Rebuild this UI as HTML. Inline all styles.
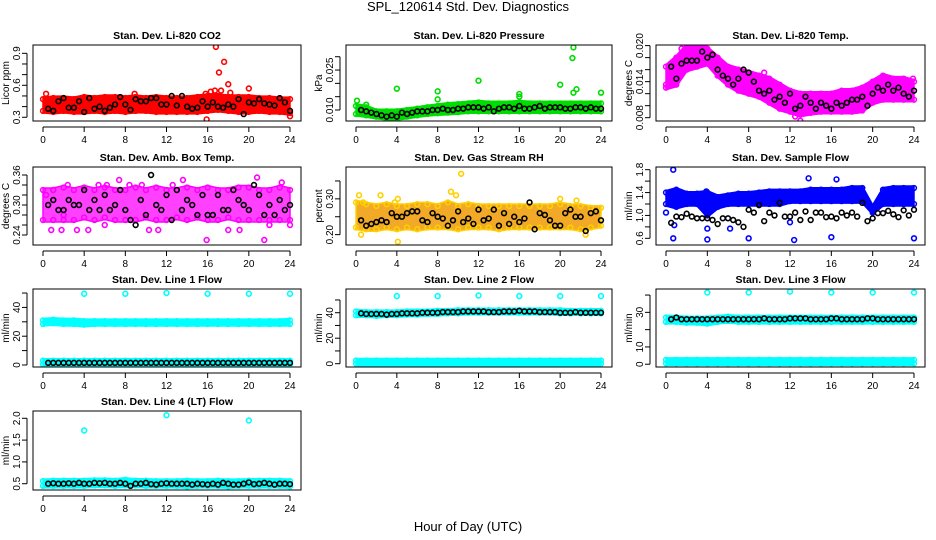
<!DOCTYPE html>
<html><head><meta charset="utf-8">
<style>
html,body{margin:0;padding:0;background:#fff;}
svg{display:block;font-family:"Liberation Sans",sans-serif;}
</style></head>
<body>
<svg id="chart" width="936" height="540" viewBox="0 0 936 540" xmlns="http://www.w3.org/2000/svg">
<rect width="936" height="540" fill="#fff"/>
<text x="468" y="11" text-anchor="middle" font-size="13">SPL_120614  Std. Dev. Diagnostics</text>
<text x="468" y="531" text-anchor="middle" font-size="13">Hour of Day (UTC)</text>
</svg>
<script>
const bandHours = [0,1,2,3,4,5,6,7,8,9,10,11,12,13,14,15,16,17,18,19,20,21,22,23,24];
const xTicks = [0,4,8,12,16,20,24];

const co2Lo = [0.36,0.35,0.36,0.35,0.35,0.36,0.35,0.36,0.35,0.36,0.36,0.35,0.35,0.35,0.35,0.35,0.36,0.37,0.36,0.35,0.35,0.36,0.35,0.35,0.34];
const co2Hi = [0.47,0.48,0.48,0.47,0.49,0.48,0.49,0.49,0.48,0.49,0.48,0.49,0.48,0.48,0.48,0.49,0.5,0.5,0.49,0.49,0.49,0.48,0.48,0.47,0.47];
const co2Blk = [0.38,0.36,0.45,0.48,0.39,0.39,0.45,0.35,0.48,0.38,0.40,0.36,0.39,0.42,0.49,0.42,0.37,0.47,0.45,0.45,0.48,0.48,0.42,0.42,0.50,0.41,0.50,0.40,0.38,0.39,0.45,0.40,0.44,0.40,0.39,0.42,0.40,0.47,0.33,0.44,0.43,0.47,0.43,0.42,0.41,0.48,0.44,0.36];
const co2OutX = [0.3,8.9,15.8,16.3,16.8,17.1,17.6,17.3,18,18.2,20,15.9,24,16.7];
const co2OutY = [0.52,0.52,0.52,0.54,0.96,0.72,0.82,0.55,0.61,0.53,0.57,0.28,0.31,0.55];

const prLo = [0.0085,0.008,0.0075,0.007,0.007,0.0075,0.008,0.0085,0.0088,0.009,0.0092,0.0095,0.0095,0.0095,0.0095,0.0095,0.0095,0.0095,0.0095,0.0095,0.0095,0.0095,0.0095,0.0095,0.0095];
const prHi = [0.0115,0.011,0.0095,0.0095,0.0095,0.01,0.0105,0.011,0.0115,0.012,0.0122,0.0125,0.0128,0.0125,0.0125,0.0125,0.0128,0.0125,0.0125,0.0125,0.0125,0.0125,0.0125,0.0125,0.0125];
const prBlk = [0.010,0.0095,0.009,0.0085,0.008,0.0075,0.008,0.0075,0.009,0.0085,0.009,0.0095,0.0095,0.0095,0.010,0.010,0.0105,0.010,0.010,0.0105,0.0105,0.011,0.011,0.011,0.0105,0.011,0.0095,0.0105,0.011,0.011,0.0105,0.0115,0.0105,0.0105,0.011,0.0115,0.0105,0.011,0.011,0.011,0.0105,0.0105,0.011,0.011,0.0105,0.011,0.0105,0.0105];
const prOutX = [0.1,1,4,8,8,12,16,16,20,21.3,21.2,21.3,21.6,24,4];
const prOutY = [0.0135,0.012,0.018,0.017,0.014,0.021,0.016,0.015,0.0195,0.0335,0.0295,0.0165,0.0178,0.0165,0.0065];

const tLo = [0.013,0.0135,0.016,0.0165,0.017,0.015,0.0135,0.0125,0.012,0.0115,0.0105,0.0095,0.009,0.0085,0.0088,0.009,0.009,0.009,0.009,0.0092,0.0105,0.011,0.011,0.011,0.011];
const tHi = [0.0165,0.018,0.020,0.020,0.0195,0.018,0.0165,0.016,0.0155,0.015,0.0145,0.0135,0.0125,0.012,0.012,0.012,0.012,0.0125,0.0125,0.013,0.014,0.015,0.0145,0.0145,0.014];
const tBlk = [0.0165,0.0145,0.017,0.0175,0.0175,0.0175,0.019,0.018,0.0185,0.016,0.015,0.0145,0.0135,0.0145,0.016,0.0155,0.014,0.0125,0.012,0.0125,0.011,0.0115,0.0105,0.012,0.0095,0.010,0.0115,0.0105,0.0095,0.0105,0.010,0.0095,0.0105,0.0100,0.0105,0.0110,0.011,0.0115,0.0100,0.0120,0.0130,0.0125,0.0135,0.0125,0.0130,0.0120,0.0115,0.0125];
const tOutX = [0,1.5,9.5,12.5,13,17.5,23.9];
const tOutY = [0.0135,0.0195,0.0155,0.0082,0.0075,0.0105,0.0145];

const aLo = [0.27,0.27,0.27,0.27,0.275,0.27,0.275,0.27,0.27,0.27,0.275,0.27,0.27,0.275,0.27,0.275,0.27,0.27,0.275,0.27,0.27,0.27,0.27,0.27,0.27];
const aHi = [0.33,0.33,0.335,0.33,0.335,0.33,0.335,0.33,0.33,0.335,0.33,0.335,0.33,0.33,0.335,0.33,0.335,0.33,0.33,0.335,0.335,0.33,0.33,0.335,0.33];
const aBlk = [0.30,0.31,0.29,0.29,0.31,0.30,0.30,0.33,0.29,0.31,0.29,0.32,0.29,0.30,0.33,0.29,0.27,0.26,0.31,0.28,0.36,0.30,0.29,0.32,0.27,0.33,0.29,0.31,0.30,0.28,0.32,0.28,0.28,0.32,0.29,0.29,0.33,0.31,0.30,0.29,0.34,0.32,0.28,0.30,0.28,0.31,0.29,0.30];
const aOutX = [0.3,0.8,1,1.8,2.4,3.3,4.4,5.4,6.2,7.4,8.4,9.6,10.3,11.2,12.6,15.9,18,19.1,20.8,21.5,22,23.2,24,13.6,2,6];
const aOutY = [0.32,0.25,0.33,0.25,0.34,0.25,0.25,0.34,0.34,0.35,0.34,0.34,0.25,0.25,0.34,0.23,0.25,0.25,0.355,0.23,0.26,0.345,0.26,0.35,0.28,0.26];

const rLo = [0.22,0.215,0.215,0.22,0.215,0.22,0.215,0.22,0.22,0.22,0.215,0.22,0.22,0.22,0.215,0.22,0.22,0.22,0.22,0.22,0.22,0.22,0.215,0.22,0.225];
const rHi = [0.29,0.285,0.28,0.285,0.28,0.28,0.285,0.285,0.28,0.29,0.28,0.285,0.28,0.28,0.28,0.28,0.28,0.28,0.28,0.28,0.285,0.28,0.28,0.275,0.275];
const rBlk = [0.24,0.225,0.23,0.235,0.24,0.235,0.26,0.25,0.25,0.26,0.265,0.265,0.24,0.235,0.26,0.25,0.245,0.225,0.24,0.265,0.235,0.245,0.23,0.27,0.24,0.245,0.27,0.225,0.26,0.23,0.25,0.235,0.245,0.29,0.215,0.26,0.255,0.24,0.225,0.225,0.26,0.27,0.25,0.25,0.21,0.26,0.265,0.24];
const rOutX = [0.3,0.7,2.4,3.8,4.1,4.1,9.3,9.8,10.3,20,21.6,0.5,22.5];
const rOutY = [0.31,0.29,0.31,0.29,0.3,0.18,0.32,0.31,0.37,0.3,0.295,0.2,0.2];

const fLo = [1.2,1.15,1.2,1.2,1.0,1.15,1.2,1.2,1.2,1.2,1.2,1.2,1.25,1.25,1.25,1.25,1.25,1.25,1.25,1.25,1.05,1.2,1.2,1.2,1.2];
const fHi = [1.4,1.45,1.38,1.38,1.4,1.32,1.35,1.38,1.38,1.4,1.42,1.42,1.42,1.42,1.45,1.45,1.45,1.45,1.48,1.48,1.15,1.45,1.48,1.48,1.48];
const fBlk = [0.87,0.98,0.97,1.03,0.98,0.95,0.95,0.95,0.92,0.85,0.95,0.95,0.92,0.88,0.8,1.1,1.05,1.18,0.9,1.05,1.0,1.22,0.98,0.98,1.05,0.92,1.07,0.92,1.05,1.05,0.97,0.98,0.95,1.05,1.0,1.05,0.98,1.22,0.9,0.95,1.04,1.04,1.08,1.02,0.97,1.09,1.0,1.1];
const fOutX = [0,0.7,0.7,0.8,4,4,8,6.2,12.4,13.8,16,16.5,24,12,3.9];
const fOutY = [1.05,1.8,0.6,0.83,0.58,0.77,0.6,0.77,0.57,1.65,0.62,1.63,0.6,0.88,1.42];

const l1Lo = [28.5,29,28.5,28.5,28,28.5,28.5,28.5,28.5,28.5,28.5,28.5,28.5,28.5,28.5,28.5,28.5,28.5,28.5,28.5,28.5,28.5,28.5,28.5,28.5];
const l1Hi = [31,31.5,31,31,30.5,30.5,30.5,30.5,30.5,30.5,30.5,30.5,30.5,30.5,30.5,30.5,30.5,30.5,30.5,30.5,30.5,30.5,30.5,30.5,31];
const l1BotLo = [0.5,0.5,0.5,0.5,0.5,0.5,0.5,0.5,0.5,0.5,0.5,0.5,0.5,0.5,0.5,0.5,0.5,0.5,0.5,0.5,0.5,0.5,0.5,0.5,0.5];
const l1BotHi = [3,3,3,3,3,3,3,3,3,3,3,3,3,3,3,3,3,3,3,3,3,3,3,3,3];
const l1Blk = [1.5,1.5,1.5,1.5,1.5,1.5,1.5,1.5,1.5,1.5,1.5,1.5,1.5,1.5,1.5,1.5,1.5,1.5,1.5,1.5,1.5,1.5,1.5,1.5,1.5,1.5,1.5,1.5,1.5,1.5,1.5,1.5,1.5,1.5,1.5,1.5,1.5,1.5,1.5,1.5,1.5,1.5,1.5,1.5,1.5,1.5,1.5,1.5];
const l1OutX = [4,8,12,16,20,24];
const l1OutY = [49.5,49.5,50,49.5,49.5,49.5];

const l2Lo = [38,38,37.5,38,38,38.5,38.5,39,39,39.5,39.5,40,40,40,40,40,40,40,40,40,39.5,39.5,39.5,39.5,39.5];
const l2Hi = [41,40.5,40.5,40.5,40.5,41,41,41,41.5,41.5,42,42,42,42,42,42,42,42,42,42,42,41.5,41.5,41.5,41.5];
const l2BotLo = [0,0,0,0,0,0,0,0,0,0,0,0,0,0,0,0,0,0,0,0,0,0,0,0,0];
const l2BotHi = [2.5,2.5,2.5,2.5,2.5,2.5,2.5,2.5,2.5,2.5,2.5,2.5,2.5,2.5,2.5,2.5,2.5,2.5,2.5,2.5,2.5,2.5,2.5,2.5,2.5];
const l2Blk = [39.5,39,39,39,39,38.5,39,39,39.5,39.5,39.5,39.5,40,40,40,40,40.5,40.5,40.5,40.5,41,41,41,41,41,40.5,40.5,40.5,41,41,41,41.5,41,41,41,40.5,40.5,40.5,40.5,40,40,40,40.5,40,40,40,40,40];
const l2OutX = [4,8,12,16,20,24];
const l2OutY = [53,53,53.5,53,53,53];

const l3Lo = [24.5,24.5,24,24,23.5,24.5,25,24.5,24.5,24.5,24.5,24.5,24.5,24.5,24.5,24.5,24.5,24.5,24.5,24.5,24.5,24.5,24.5,24.5,24.5];
const l3Hi = [27,27,26.5,26.5,26.5,27,27.5,27,27,27,27,27,27,27,27,27,27,27,27,27,27,27,27,27,27];
const l3BotLo = [0.5,0.5,0.5,0.5,0.5,0.5,0.5,0.5,0.5,0.5,0.5,0.5,0.5,0.5,0.5,0.5,0.5,0.5,0.5,0.5,0.5,0.5,0.5,0.5,0.5];
const l3BotHi = [2.5,2.5,2.5,2.5,2.5,2.5,2.5,2.5,2.5,2.5,2.5,2.5,2.5,2.5,2.5,2.5,2.5,2.5,2.5,2.5,2.5,2.5,2.5,2.5,2.5];
const l3Blk = [26,27,26,26,26,26,26,26,26,26,26,26,26,26,26,26,26,26,26.5,26,26,26,26,26.5,26.5,26.5,26.5,26,26,26,26,26.5,26.5,26,26,26,26,26,26.5,26.5,26,26,26,26,26,26,26,26];
const l3OutX = [4,8,12,16,20,24];
const l3OutY = [41.5,41.5,42,41.5,41.5,41.5];

const l4Lo = [0.45,0.45,0.45,0.45,0.45,0.46,0.46,0.45,0.46,0.46,0.45,0.45,0.45,0.45,0.44,0.45,0.45,0.45,0.44,0.45,0.45,0.45,0.45,0.45,0.44];
const l4Hi = [0.56,0.57,0.57,0.57,0.57,0.58,0.58,0.57,0.59,0.57,0.57,0.56,0.56,0.56,0.57,0.56,0.56,0.57,0.56,0.56,0.57,0.57,0.57,0.57,0.56];
const l4Blk = [0.5,0.51,0.5,0.5,0.51,0.5,0.52,0.5,0.5,0.52,0.51,0.52,0.5,0.5,0.52,0.5,0.45,0.5,0.5,0.52,0.49,0.48,0.5,0.51,0.5,0.5,0.5,0.5,0.48,0.5,0.49,0.48,0.5,0.48,0.52,0.5,0.48,0.48,0.5,0.53,0.49,0.5,0.52,0.5,0.48,0.5,0.5,0.49];
const l4OutX = [4,12,20];
const l4OutY = [1.72,2.07,1.95];

const NS = "http://www.w3.org/2000/svg";
const svg = document.getElementById('chart');
function mk(tag, attrs, parent){
  const e = document.createElementNS(NS, tag);
  for (const k in attrs) e.setAttribute(k, attrs[k]);
  (parent||svg).appendChild(e);
  return e;
}
const blkHours = [];
for (let i=1;i<=48;i++) blkHours.push(i*0.5);

const cols = [[33,301],[346,612],[656,925]];
const rows = [[45,121],[167,245],[289,367],[411,490]];

const panels = [
 {name:'co2',title:'Stan. Dev. Li-820 CO2',ylab:'Licor ppm',c:0,r:0,dom:[0.265,0.978],color:'#ff0000',bands:[[co2Lo,co2Hi]],blk:co2Blk,ox:co2OutX,oy:co2OutY,ticks:[0.3,0.4,0.5,0.6,0.7,0.8,0.9],labels:['0.3','','','0.6','','','0.9']},
 {name:'pressure',title:'Stan. Dev. Li-820 Pressure',ylab:'kPa',c:1,r:0,dom:[0.00587,0.0344],color:'#00dd00',bands:[[prLo,prHi]],blk:prBlk,ox:prOutX,oy:prOutY,ticks:[0.010,0.015,0.020,0.025,0.030],labels:['0.010','','','0.025','']},
 {name:'licor-temp',title:'Stan. Dev. Li-820 Temp.',ylab:'degrees C',c:2,r:0,dom:[0.00745,0.0201],color:'#ff00ff',bands:[[tLo,tHi]],blk:tBlk,ox:tOutX,oy:tOutY,ticks:[0.008,0.010,0.012,0.014,0.016,0.018,0.020],labels:['0.008','','','0.014','','','0.020']},
 {name:'amb-box-temp',title:'Stan. Dev. Amb. Box Temp.',ylab:'degrees C',c:0,r:1,dom:[0.22,0.376],color:'#ff00ff',op:0.75,bands:[[aLo,aHi]],blk:aBlk,ox:aOutX,oy:aOutY,ticks:[0.24,0.26,0.28,0.30,0.32,0.34,0.36],labels:['0.24','','','0.30','','','0.36']},
 {name:'gas-stream-rh',title:'Stan. Dev. Gas Stream RH',ylab:'percent',c:1,r:1,dom:[0.171,0.389],color:'#f0a010',edge:'#ffd000',op:0.9,bands:[[rLo,rHi]],blk:rBlk,ox:rOutX,oy:rOutY,ticks:[0.20,0.25,0.30,0.35],labels:['0.20','','0.30','']},
 {name:'sample-flow',title:'Stan. Dev. Sample Flow',ylab:'ml/min',c:2,r:1,dom:[0.483,1.847],color:'#0000ff',bands:[[fLo,fHi]],blk:fBlk,ox:fOutX,oy:fOutY,ticks:[0.6,0.8,1.0,1.2,1.4,1.6,1.8],labels:['0.6','','1.0','','1.4','','1.8']},
 {name:'line1-flow',title:'Stan. Dev. Line 1 Flow',ylab:'ml/min',c:0,r:2,dom:[-1.4,52.8],color:'#00ffff',bands:[[l1Lo,l1Hi],[l1BotLo,l1BotHi]],blk:l1Blk,ox:l1OutX,oy:l1OutY,ticks:[0,10,20,30,40,50],labels:['0','','20','','40','']},
 {name:'line2-flow',title:'Stan. Dev. Line 2 Flow',ylab:'ml/min',c:1,r:2,dom:[-2.6,58.6],color:'#00ffff',bands:[[l2Lo,l2Hi],[l2BotLo,l2BotHi]],blk:l2Blk,ox:l2OutX,oy:l2OutY,ticks:[0,10,20,30,40,50],labels:['0','','20','','40','']},
 {name:'line3-flow',title:'Stan. Dev. Line 3 Flow',ylab:'ml/min',c:2,r:2,dom:[-1.6,43.5],color:'#00ffff',bands:[[l3Lo,l3Hi],[l3BotLo,l3BotHi]],blk:l3Blk,ox:l3OutX,oy:l3OutY,ticks:[0,10,20,30,40],labels:['0','10','','30','']},
 {name:'line4-flow',title:'Stan. Dev. Line 4 (LT) Flow',ylab:'ml/min',c:0,r:3,dom:[0.356,2.167],color:'#00ffff',bands:[[l4Lo,l4Hi]],blk:l4Blk,ox:l4OutX,oy:l4OutY,ticks:[0.5,1.0,1.5,2.0],labels:['0.5','1.0','1.5','2.0']}
];

panels.forEach(p=>{
  const L=cols[p.c][0], R=cols[p.c][1], T=rows[p.r][0], B=rows[p.r][1];
  const xs = h => (L+10) + h/24*((R-11)-(L+10));
  const ys = v => B - (v-p.dom[0])/(p.dom[1]-p.dom[0])*(B-T);
  const g = mk('g',{});
  
  
  const clip = mk('clipPath',{id:'clip-'+p.name},g);
  mk('rect',{x:L,y:T,width:R-L,height:B-T},clip);
  const t = mk('text',{x:(L+R)/2,y:T-6,'text-anchor':'middle','font-size':'10.5','font-weight':'bold'},g);
  t.textContent = p.title;
  
  
  const yl = mk('text',{x:0,y:0,'text-anchor':'middle','font-size':'10',transform:`translate(${L-24},${(T+B)/2}) rotate(-90)`},g);
  yl.textContent = p.ylab;
  
  
  const plot = mk('g',{'clip-path':`url(#clip-${p.name})`},g);
  p.bands.forEach((bd,bi)=>{
    const lo=bd[0], hi=bd[1];
    let pts=[];
    bandHours.forEach((h,i)=>pts.push(xs(h).toFixed(1)+','+(ys(hi[i])-2).toFixed(1)));
    for(let i=bandHours.length-1;i>=0;i--) pts.push(xs(bandHours[i]).toFixed(1)+','+(ys(lo[i])+2).toFixed(1));
    const poly = mk('polygon',{points:pts.join(' '),fill:p.color,'fill-opacity':p.op||1,stroke:p.edge||p.color,'stroke-width':'1.5'},plot);
    
    
    bandHours.forEach((h,i)=>{
      [hi[i],lo[i]].forEach(v=>{
        const c = mk('circle',{cx:xs(h),cy:ys(v),r:2.4,fill:'none',stroke:p.edge||p.color,'stroke-width':'1.5'},plot);
        
        
      });
    });
  });
  p.ox.forEach((h,i)=>{
    const c = mk('circle',{cx:xs(h),cy:ys(p.oy[i]),r:2.4,fill:'none',stroke:p.edge||p.color,'stroke-width':'1.6'},plot);
    
    
  });
  p.blk.forEach((v,i)=>{
    const c = mk('circle',{cx:xs(blkHours[i]),cy:ys(v),r:2.4,fill:'none',stroke:'#000','stroke-width':'1.6'},plot);
    
    
  });
  const box = mk('rect',{x:L,y:T,width:R-L,height:B-T,fill:'none',stroke:'#000','stroke-width':'1'},g);
  
  
  mk('line',{x1:xs(0),x2:xs(24),y1:B+6,y2:B+6,stroke:'#000'},g);
  xTicks.forEach(h=>{
    mk('line',{x1:xs(h),x2:xs(h),y1:B+6,y2:B+11,stroke:'#000'},g);
    const tx = mk('text',{x:xs(h),y:B+22,'text-anchor':'middle','font-size':'10'},g);
    tx.textContent = h;
    
    
  });
  mk('line',{x1:L-6,x2:L-6,y1:ys(p.ticks[0]),y2:ys(p.ticks[p.ticks.length-1]),stroke:'#000'},g);
  p.ticks.forEach((v,i)=>{
    mk('line',{x1:L-11,x2:L-6,y1:ys(v),y2:ys(v),stroke:'#000'},g);
    if(p.labels[i]){
      const ty = mk('text',{x:0,y:0,'text-anchor':'middle','font-size':'10',transform:`translate(${L-13},${ys(v)}) rotate(-90)`},g);
      ty.textContent = p.labels[i];
      
      
    }
  });
});
</script>
</body></html>
